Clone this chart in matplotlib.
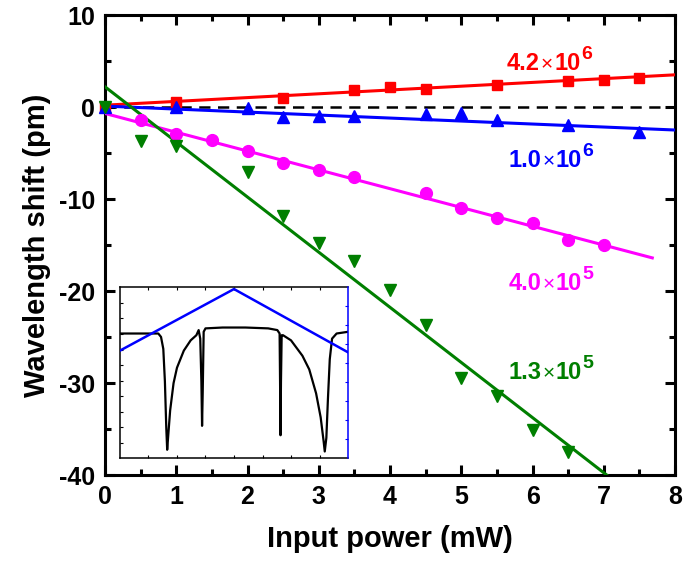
import matplotlib
matplotlib.use("Agg")
import matplotlib.pyplot as plt
from matplotlib.ticker import MultipleLocator, FixedLocator, NullFormatter

plt.rcParams['font.family'] = ['Liberation Sans', 'DejaVu Sans']
plt.rcParams['font.weight'] = 'bold'
plt.rcParams['axes.unicode_minus'] = False

# ---- data ----
red_x = [0, 1, 2.5, 3.5, 4, 4.5, 5.5, 6.5, 7, 7.5]
red_y = [0.0, 0.5, 1.0, 1.9, 2.2, 2.0, 2.4, 2.8, 2.9, 3.1]
red_fit_x = [0, 8]
red_fit_y = [0.2, 3.5]

blue_x = [0, 1, 2, 2.5, 3, 3.5, 4.5, 5, 5.5, 6.5, 7.5]
blue_y = [0.0, 0.0, -0.15, -1.05, -1.0, -1.0, -0.8, -0.6, -1.4, -2.0, -2.7]
blue_fit_x = [0, 8]
blue_fit_y = [0.1, -2.5]

mag_x = [0.5, 1, 1.5, 2, 2.5, 3, 3.5, 4.5, 5, 5.5, 6, 6.5, 7]
mag_y = [-1.4, -2.9, -3.6, -4.8, -6.1, -6.8, -7.6, -9.4, -11.0, -12.1, -12.6, -14.5, -15.0]
mag_fit_x = [0, 7.68]
mag_fit_y = [-0.7, -16.4]

grn_x = [0, 0.5, 1, 2, 2.5, 3, 3.5, 4, 4.5, 5, 5.5, 6, 6.5]
grn_y = [0.0, -3.7, -4.2, -7.1, -11.8, -14.8, -16.7, -19.9, -23.7, -29.5, -31.4, -35.1, -37.5]
grn_fit_x = [0, 7.04]
grn_fit_y = [2.2, -40.0]

zero_x = [0, 8]
zero_y = [0, 0]

label_mant = ['4.2', '1.0', '4.0', '1.3']
label_exp = ['6', '6', '5', '5']
label_x = [5.64, 5.66, 5.66, 5.66]
label_y = [4.0, -6.5, -19.9, -29.6]

# inset traces (fractions of inset box)
trans_x = [0.0, 0.10, 0.168, 0.18, 0.19, 0.197, 0.203, 0.207, 0.212, 0.22, 0.235, 0.25, 0.28,
           0.31, 0.335, 0.345, 0.352, 0.357, 0.360, 0.363, 0.367, 0.375, 0.45, 0.55, 0.65,
           0.69, 0.700, 0.702, 0.704, 0.706, 0.709, 0.715, 0.75, 0.80, 0.83, 0.86, 0.88,
           0.893, 0.898, 0.905, 0.912, 0.92, 0.93, 0.95, 1.0]
trans_y = [0.73, 0.73, 0.73, 0.71, 0.64, 0.45, 0.18, 0.05, 0.14, 0.28, 0.44, 0.53, 0.63,
           0.69, 0.72, 0.75, 0.70, 0.45, 0.19, 0.40, 0.74, 0.76, 0.765, 0.765, 0.76,
           0.75, 0.73, 0.45, 0.135, 0.45, 0.72, 0.72, 0.69, 0.60, 0.52, 0.38, 0.24,
           0.10, 0.04, 0.12, 0.35, 0.58, 0.70, 0.73, 0.74]
scan_x = [0.0, 0.50, 1.0]
scan_y = [0.63, 0.99, 0.62]

# ---- figure ----
fig = plt.figure(figsize=(6.84, 5.69), dpi=100)
ax = fig.add_axes([0.1535, 0.1652, 0.8335, 0.8084])

red, blue, mag, grn = '#ff0000', '#0000ff', '#ff00ff', '#007f00'

ax.plot(zero_x, zero_y, color='black', lw=1.8, ls=(0, (4.5, 3)), zorder=2)
ax.plot(red_fit_x, red_fit_y, color=red, lw=2.2, zorder=3)
ax.plot(blue_fit_x, blue_fit_y, color=blue, lw=2.2, zorder=3)
ax.plot(mag_fit_x, mag_fit_y, color=mag, lw=2.2, zorder=3)
ax.plot(grn_fit_x, grn_fit_y, color=grn, lw=2.2, zorder=3)

ax.plot(red_x, red_y, 's', color=red, ms=7.2, zorder=4, clip_on=False)
ax.plot(blue_x, blue_y, '^', color=blue, ms=9, zorder=4, clip_on=False)
ax.plot(mag_x, mag_y, 'o', color=mag, ms=8.5, zorder=4, clip_on=False)
ax.plot(grn_x, grn_y, 'v', color=grn, ms=9, zorder=4, clip_on=False)

ax.set_xlim(0, 8)
ax.set_ylim(-40, 10)
ax.xaxis.set_major_locator(MultipleLocator(1))
ax.xaxis.set_minor_locator(MultipleLocator(0.5))
ax.yaxis.set_major_locator(MultipleLocator(10))
ax.yaxis.set_minor_locator(MultipleLocator(5))
ax.tick_params(which='both', direction='in', top=True, right=True, width=2.2)
ax.tick_params(which='major', length=7.5, labelsize=18, pad=7)
ax.tick_params(which='minor', length=4.3)
for s in ax.spines.values():
    s.set_linewidth(2.2)
for lab in ax.get_xticklabels() + ax.get_yticklabels():
    lab.set_fontweight('bold')

ax.set_xlabel('Input power (mW)', fontsize=21, fontweight='bold', labelpad=12)
ax.set_ylabel('Wavelength shift (pm)', fontsize=21, fontweight='bold', labelpad=6)

# series labels: mantissa, small times sign, "10", superscript exponent
fig.canvas.draw()
rend = fig.canvas.get_renderer()
for m, e, x, y, c in zip(label_mant, label_exp, label_x, label_y, [red, blue, mag, grn]):
    x0 = ax.transData.transform((x, y))[0]
    t1 = ax.text(x, y, m, color=c, fontsize=17, fontweight='bold', ha='left', va='baseline')
    b1 = t1.get_window_extent(rend)
    t2 = ax.annotate('\u00d7', xy=(x, y), xytext=((b1.x1 - x0 + 1) * 0.72, 0),
                     textcoords='offset points', color=c, fontsize=15, fontweight='normal',
                     ha='left', va='baseline')
    b2 = t2.get_window_extent(rend)
    t3 = ax.annotate('10', xy=(x, y), xytext=((b2.x1 - x0 + 1) * 0.72, 0),
                     textcoords='offset points', color=c, fontsize=17, fontweight='bold',
                     ha='left', va='baseline')
    b3 = t3.get_window_extent(rend)
    ax.annotate(e, xy=(x, y), xytext=((b3.x1 - x0 + 1) * 0.72, 8.0),
                textcoords='offset points', color=c, fontsize=14, fontweight='bold',
                ha='left', va='baseline')

# ---- inset ----
ins = fig.add_axes([0.1754, 0.1945, 0.3334, 0.3005])
ins.plot(trans_x, trans_y, color='black', lw=1.6)
ins.set_xlim(0, 1)
ins.set_ylim(0, 1)
ins.xaxis.set_major_locator(FixedLocator([i / 8 for i in range(1, 8)]))
ins.yaxis.set_major_locator(FixedLocator([i / 11 for i in range(1, 11)]))
ins.xaxis.set_major_formatter(NullFormatter())
ins.yaxis.set_major_formatter(NullFormatter())
ins.tick_params(direction='in', top=True, right=False, length=2.5, width=0.8)
for s in ins.spines.values():
    s.set_linewidth(1.1)
ins.spines['right'].set_visible(False)

tw = ins.twinx()
tw.plot(scan_x, scan_y, color=blue, lw=1.8)
tw.set_ylim(0, 1)
tw.set_xlim(0, 1)
tw.yaxis.set_major_locator(FixedLocator([i / 9 for i in range(1, 9)]))
tw.yaxis.set_major_formatter(NullFormatter())
tw.tick_params(axis='y', direction='in', length=2.5, width=0.8, colors=blue)
tw.spines['right'].set_color(blue)
tw.spines['right'].set_linewidth(1.1)
for k in ['left', 'top', 'bottom']:
    tw.spines[k].set_visible(False)

fig.savefig('out.png', dpi=100)
